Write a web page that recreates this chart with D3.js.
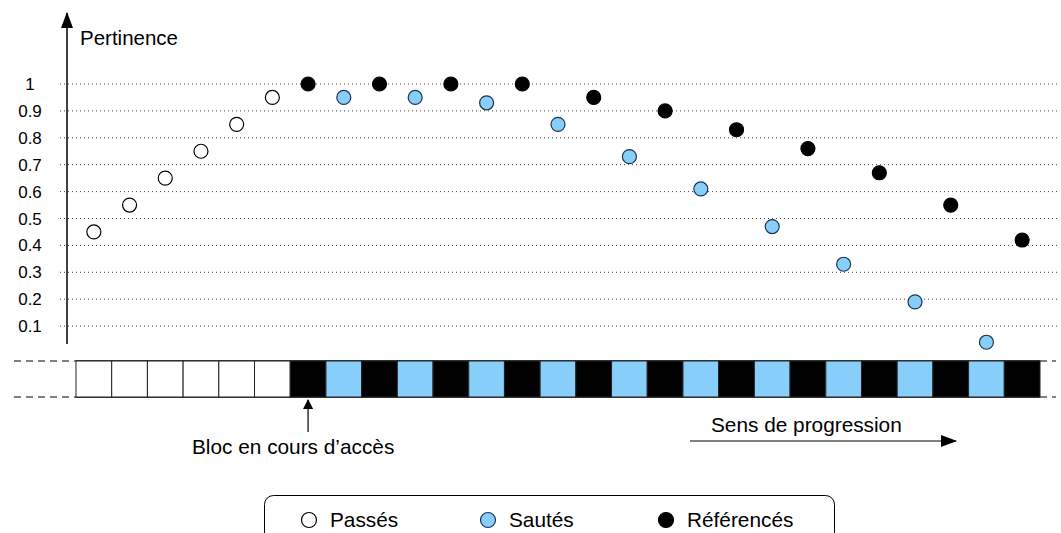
<!DOCTYPE html>
<html>
<head>
<meta charset="utf-8">
<script src="https://cdn.jsdelivr.net/npm/d3@7"></script>
<style>
  body { margin: 0; background: #fff; }
  svg { display: block; font-family: Arial, "Liberation Sans", sans-serif; }
</style>
</head>
<body>
<svg id="chart" width="1061" height="533"></svg>
<script>
// Block sequence: 6 past blocks, then alternating referenced / skipped blocks
const blockTypes = [
  "passe","passe","passe","passe","passe","passe",
  "ref","saute","ref","saute","ref","saute","ref","saute","ref","saute","ref",
  "saute","ref","saute","ref","saute","ref","saute","ref","saute","ref"
];
// Relevance (pertinence) of each block, same order as blockTypes
const pertinence = [
  0.45, 0.55, 0.65, 0.75, 0.85, 0.95,
  1.00, 0.95, 1.00, 0.95, 1.00, 0.93, 1.00, 0.85, 0.95, 0.73, 0.90,
  0.61, 0.83, 0.47, 0.76, 0.33, 0.67, 0.19, 0.55, 0.04, 0.42
];
const yTicks = [0.1, 0.2, 0.3, 0.4, 0.5, 0.6, 0.7, 0.8, 0.9, 1];
const legendLabels = ["Passés", "Sautés", "Référencés"];
const legendKeys = ["passe", "saute", "ref"];

const fills = { passe: "#ffffff", saute: "#87cefa", ref: "#000000" };

const svg = d3.select("#chart");

const x = d3.scaleBand()
  .domain(d3.range(blockTypes.length))
  .range([76, 1040])
  .paddingInner(0).paddingOuter(0);

const y = d3.scaleLinear().domain([0, 1]).range([353, 84]);

// Dotted horizontal gridlines
svg.append("g")
  .selectAll("line")
  .data(yTicks)
  .join("line")
  .attr("x1", 60).attr("x2", 1057)
  .attr("y1", d => y(d)).attr("y2", d => y(d))
  .attr("stroke", "#444")
  .attr("stroke-width", 1)
  .attr("stroke-dasharray", "1,3");

// Tick labels
svg.append("g")
  .selectAll("text")
  .data(yTicks)
  .join("text")
  .attr("x", 30)
  .attr("y", d => y(d) + 6)
  .attr("text-anchor", "middle")
  .attr("font-size", 17)
  .attr("fill", "#000")
  .text(d => d === 1 ? "1" : d3.format(".1f")(d));

// Arrow markers
const defs = svg.append("defs");
defs.append("marker")
  .attr("id", "head")
  .attr("viewBox", "0 0 10 10")
  .attr("refX", 9).attr("refY", 5)
  .attr("markerWidth", 10).attr("markerHeight", 10)
  .attr("markerUnits", "userSpaceOnUse")
  .attr("orient", "auto")
  .append("path").attr("d", "M0,0 L10,5 L0,10 Z").attr("fill", "#000");
defs.append("marker")
  .attr("id", "headWide")
  .attr("viewBox", "0 0 16 12")
  .attr("refX", 15).attr("refY", 6)
  .attr("markerWidth", 16).attr("markerHeight", 12)
  .attr("markerUnits", "userSpaceOnUse")
  .attr("orient", "auto")
  .append("path").attr("d", "M0,0 L16,6 L0,12 Z").attr("fill", "#000");

// Vertical axis with arrow
svg.append("line")
  .attr("x1", 67).attr("x2", 67)
  .attr("y1", 344).attr("y2", 13)
  .attr("stroke", "#000").attr("stroke-width", 1.5)
  .attr("marker-end", "url(#headWide)");

svg.append("text")
  .attr("x", 80).attr("y", 45)
  .attr("font-size", 20.5)
  .text("Pertinence");

// Dashed guide lines around the block strip
const stripTop = 361, stripBottom = 397;
[stripTop, stripBottom].forEach(yy => {
  svg.append("line")
    .attr("x1", 14).attr("x2", 76).attr("y1", yy).attr("y2", yy)
    .attr("stroke", "#000").attr("stroke-dasharray", "7,5");
  svg.append("line")
    .attr("x1", 1040).attr("x2", 1056).attr("y1", yy).attr("y2", yy)
    .attr("stroke", "#000").attr("stroke-dasharray", "7,5");
  svg.append("line")
    .attr("x1", 76).attr("x2", 1040).attr("y1", yy).attr("y2", yy)
    .attr("stroke", "#000").attr("stroke-width", 1.5);
});

// Blocks
svg.append("g")
  .selectAll("rect")
  .data(blockTypes)
  .join("rect")
  .attr("x", (d, i) => x(i))
  .attr("y", stripTop)
  .attr("width", x.bandwidth())
  .attr("height", stripBottom - stripTop)
  .attr("fill", d => fills[d])
  .attr("stroke", "#222")
  .attr("stroke-width", 1);

// Relevance points
svg.append("g")
  .selectAll("circle")
  .data(pertinence)
  .join("circle")
  .attr("cx", (d, i) => x(i) + x.bandwidth() / 2)
  .attr("cy", d => y(d))
  .attr("r", 7)
  .attr("fill", (d, i) => fills[blockTypes[i]])
  .attr("stroke", (d, i) => blockTypes[i] === "saute" ? "#1d3550" : "#000")
  .attr("stroke-width", 1.2);

// Current block pointer
const curIdx = blockTypes.indexOf("ref");
svg.append("line")
  .attr("x1", x(curIdx) + x.bandwidth() / 2).attr("x2", x(curIdx) + x.bandwidth() / 2)
  .attr("y1", 432).attr("y2", 400)
  .attr("stroke", "#000").attr("stroke-width", 1.2)
  .attr("marker-end", "url(#head)");
svg.append("text")
  .attr("x", 192).attr("y", 454)
  .attr("font-size", 20.8)
  .text("Bloc en cours d\u2019accès");

// Direction of progression
svg.append("text")
  .attr("x", 711).attr("y", 432)
  .attr("font-size", 20.8)
  .text("Sens de progression");
svg.append("line")
  .attr("x1", 690).attr("x2", 956)
  .attr("y1", 441).attr("y2", 441)
  .attr("stroke", "#000").attr("stroke-width", 1.2)
  .attr("marker-end", "url(#headWide)");

// Legend
svg.append("rect")
  .attr("x", 264.5).attr("y", 495.5)
  .attr("width", 570).attr("height", 60)
  .attr("rx", 9)
  .attr("fill", "#fff").attr("stroke", "#000").attr("stroke-width", 1);

const legendX = [309, 488, 666];
const leg = svg.append("g")
  .selectAll("g")
  .data(legendKeys)
  .join("g")
  .attr("transform", (d, i) => `translate(${legendX[i]},520)`);
leg.append("circle")
  .attr("r", 7.5)
  .attr("fill", d => fills[d])
  .attr("stroke", d => d === "saute" ? "#1d3550" : "#000")
  .attr("stroke-width", 1.2);
leg.append("text")
  .attr("x", 21).attr("y", 7)
  .attr("font-size", 20.8)
  .text((d, i) => legendLabels[i]);
</script>
</body>
</html>
